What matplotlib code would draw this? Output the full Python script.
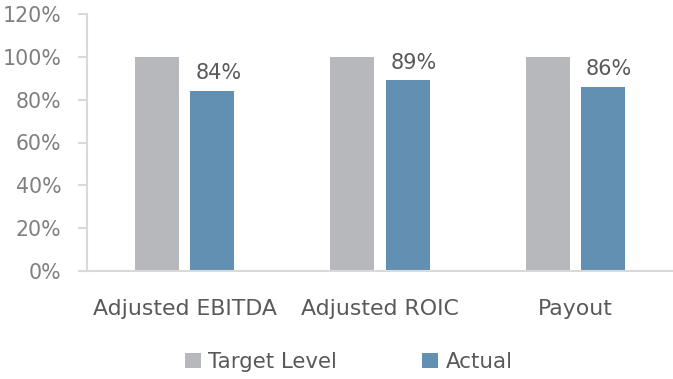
import matplotlib.pyplot as plt
import numpy as np

plt.rcParams['font.family'] = ['DejaVu Sans']

# Data
categories = ['Adjusted EBITDA', 'Adjusted ROIC', 'Payout']
target_level = [100, 100, 100]
actual = [84, 89, 86]
actual_labels = ['84%', '89%', '86%']
yticks = [0, 20, 40, 60, 80, 100, 120]

gray = '#B7B8BC'
blue = '#6190B3'
axis_col = '#D9D9D9'
tick_text = '#7F7F7F'
label_text = '#595959'

fig = plt.figure(figsize=(6.73, 3.79), dpi=100)
ax = fig.add_axes([87 / 673, 108 / 379, 1 - 87 / 673, 257 / 379])

x = np.arange(len(categories))
w = 0.226
off = 0.142
b1 = ax.bar(x - off, target_level, w, color=gray, label='Target Level')
b2 = ax.bar(x + off, actual, w, color=blue, label='Actual')

# data labels on the actual bars
for xi, v, lab in zip(x, actual, actual_labels):
    ax.text(xi + off + 0.03, v + 5.5, lab, ha='center', va='baseline',
            fontsize=15, color=label_text)

ax.set_xlim(-0.5, 2.5)
ax.set_ylim(0, 120)
ax.set_yticks(yticks)
ax.set_yticklabels([f'{t}%' for t in yticks])
ax.set_xticks(x)
ax.set_xticklabels(categories)

for s in ['top', 'right']:
    ax.spines[s].set_visible(False)
for s in ['left', 'bottom']:
    ax.spines[s].set_color(axis_col)
    ax.spines[s].set_linewidth(1.5)

ax.tick_params(axis='y', length=6.5, width=1.5, color=axis_col, pad=12,
               labelsize=14.8, labelcolor=tick_text)
ax.tick_params(axis='x', length=0, pad=20, labelsize=15.8, labelcolor=label_text)

fig.legend(handles=[b1, b2], loc='center', bbox_to_anchor=(0.518, 0.045),
           ncol=2, frameon=False, fontsize=15.4, labelcolor=label_text,
           handlelength=0.75, handleheight=0.75, handletextpad=0.33,
           columnspacing=4.0)

fig.savefig('out.png', dpi=100)
